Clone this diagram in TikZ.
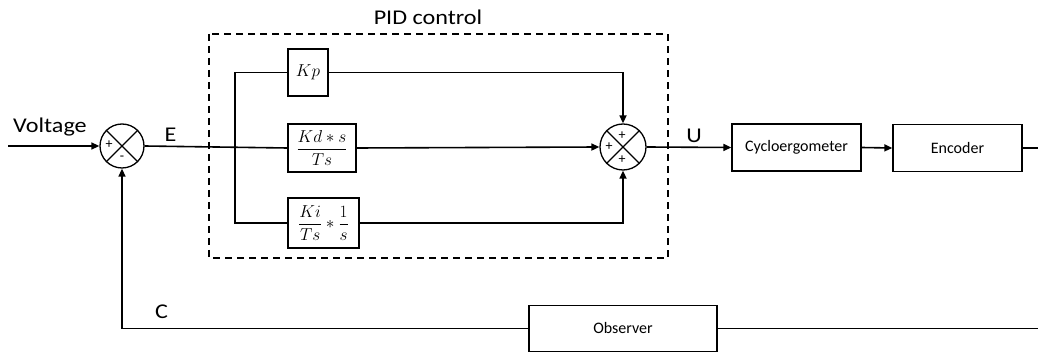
\documentclass[tikz,border=0pt]{standalone}
\usepackage{amsmath}
\usepackage{fontspec}
\setmainfont{Carlito}
\newfontfamily\labelfont[FakeStretch=1.15]{Carlito}
\usetikzlibrary{arrows.meta,calc}

\tikzset{
  wire/.style={line width=1.6pt},
  flow/.style={wire,-{Triangle[length=8pt,width=7pt]}},
  block/.style={draw,line width=1.3pt,rectangle,inner sep=0pt,font=\fontsize{16}{18}\selectfont},
  mblock/.style={draw,line width=1.3pt,rectangle,inner sep=0pt,font=\fontsize{18}{20}\selectfont},
  summer/.style={draw,line width=1.3pt,circle,inner sep=0pt},
  sign/.style={inner sep=0pt,font=\fontsize{14}{14}\selectfont},
  lbl/.style={inner sep=0pt,font=\labelfont\fontsize{21}{24}\selectfont},
}

\begin{document}
\begin{tikzpicture}[x=1pt,y=-1pt]
\useasboundingbox (0,0) rectangle (1038,352);

% PID controller frame
\draw[line width=1.4pt,dash pattern=on 7pt off 5pt] (209,34) rectangle (668,258);
\node[lbl] (pidtitle) at (428,17) {PID control};

% summing junctions
\node[summer,minimum size=44pt] (sum1) at (122,146) {};
\draw[line width=1.3pt] (sum1.north west) -- (sum1.south east) (sum1.north east) -- (sum1.south west);
\node[sign] (s1a) at ($(sum1.center)+(-13,-1)$) {+};
\node[sign] (s1b) at ($(sum1.center)+(0,12)$) {-};

\node[summer,minimum size=46pt] (sum2) at (623,147) {};
\draw[line width=1.3pt] (sum2.north west) -- (sum2.south east) (sum2.north east) -- (sum2.south west);
\node[sign] (s2a) at ($(sum2.center)+(-1,-11)$) {+};
\node[sign] (s2b) at ($(sum2.center)+(-14,0)$) {+};
\node[sign] (s2c) at ($(sum2.center)+(-1,13)$) {+};

% controller terms
\node[mblock,minimum width=40pt,minimum height=47pt] (kp) at (308,72.5) {$Kp$};
\node[mblock,minimum width=68pt,minimum height=48pt] (kd) at (322,148) {$\dfrac{Kd\ast s}{Ts}$};
\node[mblock,minimum width=71pt,minimum height=50pt] (ki) at (323.5,223) {$\dfrac{Ki}{Ts}\ast\dfrac{1}{s}$};

% plant and sensors
\node[block,minimum width=129pt,minimum height=47pt] (cyc) at (796.5,147.5) {Cycloergometer};
\node[block,minimum width=129pt,minimum height=47pt] (enc) at (957.5,148) {Encoder};
\node[block,minimum width=188pt,minimum height=46pt] (obs) at (623,328.5) {Observer};

% signal labels
\node[lbl] (vlbl) at (50,127) {Voltage};
\node[lbl] (elbl) at (170.5,135) {E};
\node[lbl] (ulbl) at (694,136) {U};
\node[lbl] (clbl) at (161.5,311.5) {C};

% connections
\coordinate (src) at (8,146);
\coordinate (br) at (235,146);
\coordinate (outr) at (1045,148);
\coordinate (outd) at (1045,328.5);

\draw[flow] (src) -- (sum1.west);
\draw[wire] (sum1.east) -- (kd.west);
\draw[wire] (kp.west) -| (br) |- (ki.west);
\draw[flow] (kd.east) -- (sum2.west);
\draw[flow] (kp.east) -| (sum2.north);
\draw[flow] (ki.east) -| (sum2.south);
\draw[flow] (sum2.east) -- (cyc.west);
\draw[flow] (cyc.east) -- (enc.west);
\draw[wire] (enc.east) -- (outr) -- (outd) -- (obs.east);
\draw[flow] (obs.west) -| (sum1.south);
\end{tikzpicture}
\end{document}
